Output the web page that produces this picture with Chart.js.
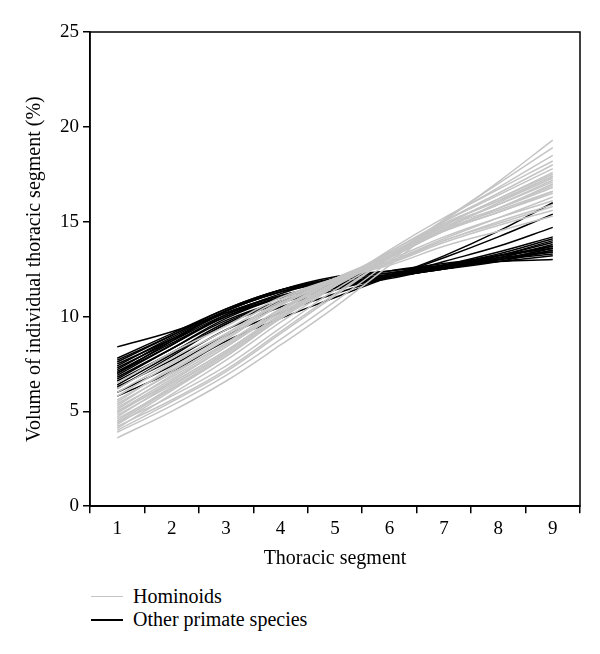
<!DOCTYPE html>
<html>
<head>
<meta charset="utf-8">
<script src="https://cdn.jsdelivr.net/npm/chart.js@4/dist/chart.umd.min.js"></script>
<style>
    body { margin: 0; background: #fff; }
    #wrap { position: relative; width: 600px; height: 654px; }
    #chartBox { position: absolute; left: 0; top: 0; width: 600px; height: 578px; }
    .legend { position: absolute; left: 91px; font-family: "Liberation Serif", serif; font-size: 20px; color: #000; }
    .legend .swatch { position: absolute; left: 0; top: 11px; width: 32px; height: 0; border-top: 2px solid; }
    .legend span { position: absolute; left: 42px; top: 0; white-space: nowrap; }
</style>
</head>
<body>
<div id="wrap">
    <div id="chartBox"><canvas id="chart"></canvas></div>
    <div class="legend" style="top: 585px;"><div class="swatch" style="border-color:#c4c4c4; border-top-width:1.5px"></div><span>Hominoids</span></div>
    <div class="legend" style="top: 608px;"><div class="swatch" style="border-color:#000"></div><span>Other primate species</span></div>
</div>
<script>
const segments = ['1', '2', '3', '4', '5', '6', '7', '8', '9'];
const yTicks = [0, 5, 10, 15, 20, 25];

// hominoids (grey)
const hominoids = [
    [3.6, 5.0, 6.6, 8.5, 10.5, 12.7, 15.0, 17.1, 19.3],
    [3.9, 5.3, 6.9, 8.8, 10.8, 12.9, 15.1, 17.0, 18.9],
    [4.0, 5.5, 7.1, 9.1, 11.1, 13.1, 15.1, 16.8, 18.5],
    [4.1, 5.9, 7.7, 9.7, 11.6, 13.5, 15.2, 16.7, 18.2],
    [4.2, 5.6, 7.2, 9.2, 11.2, 13.1, 15.0, 16.5, 18.0],
    [4.3, 6.1, 7.9, 9.9, 11.7, 13.4, 15.0, 16.4, 17.8],
    [4.4, 5.8, 7.4, 9.4, 11.4, 13.1, 14.8, 16.2, 17.6],
    [4.5, 6.3, 8.1, 10.0, 11.8, 13.4, 14.9, 16.1, 17.4],
    [4.6, 6.2, 7.9, 9.9, 11.6, 13.1, 14.6, 16.0, 17.3],
    [4.7, 6.5, 8.2, 10.1, 11.8, 13.3, 14.8, 15.9, 17.1],
    [4.8, 6.4, 8.1, 10.0, 11.7, 13.2, 14.7, 15.9, 17.2],
    [4.9, 6.6, 8.4, 10.3, 11.9, 13.3, 14.7, 15.7, 16.8],
    [5.0, 6.7, 8.4, 10.2, 11.7, 13.1, 14.5, 15.7, 17.0],
    [5.1, 6.9, 8.6, 10.4, 12.0, 13.2, 14.6, 15.6, 16.6],
    [5.2, 6.8, 8.5, 10.3, 11.8, 13.1, 14.5, 15.7, 16.9],
    [5.3, 7.1, 8.8, 10.6, 12.0, 13.2, 14.5, 15.5, 16.5],
    [5.4, 7.0, 8.6, 10.4, 11.9, 13.1, 14.5, 15.5, 16.6],
    [5.5, 7.3, 9.0, 10.7, 12.0, 13.0, 14.2, 15.2, 16.1],
    [5.6, 7.2, 8.9, 10.6, 11.9, 12.9, 14.1, 15.2, 16.3],
    [5.8, 7.5, 9.1, 10.8, 12.0, 12.9, 14.0, 15.0, 15.9],
    [6.0, 7.6, 9.1, 10.7, 11.9, 12.8, 14.0, 14.9, 15.8],
    [6.2, 7.8, 9.3, 10.9, 12.0, 12.8, 13.9, 14.8, 15.6],
    [6.5, 8.1, 9.5, 11.0, 12.0, 12.7, 13.7, 14.5, 15.3],
    [4.4, 6.2, 8.0, 9.9, 11.6, 13.2, 14.8, 16.2, 17.5],
    [5.0, 6.5, 8.2, 10.1, 11.8, 13.4, 14.9, 16.1, 17.4]
];

// other primate species (black)
const otherPrimates = [
    [8.4, 9.2, 10.2, 11.1, 11.7, 12.1, 12.5, 12.9, 13.5],
    [7.8, 9.1, 10.4, 11.4, 11.9, 12.2, 12.6, 13.0, 13.5],
    [7.7, 9.0, 10.3, 11.3, 11.8, 12.1, 12.5, 13.0, 13.6],
    [7.6, 9.0, 10.4, 11.4, 12.0, 12.3, 12.6, 12.9, 13.2],
    [7.5, 8.8, 10.2, 11.1, 11.7, 12.1, 12.5, 13.0, 13.6],
    [7.4, 8.9, 10.3, 11.3, 11.9, 12.2, 12.6, 13.0, 13.4],
    [7.3, 8.7, 10.1, 11.0, 11.6, 12.1, 12.6, 13.1, 13.8],
    [7.2, 8.8, 10.3, 11.3, 12.0, 12.3, 12.7, 13.0, 13.3],
    [7.1, 8.6, 10.0, 11.0, 11.6, 12.1, 12.6, 13.2, 13.9],
    [7.0, 8.5, 10.0, 11.0, 11.6, 12.1, 12.6, 13.1, 13.7],
    [6.9, 8.5, 10.1, 11.2, 12.0, 12.4, 12.8, 13.1, 13.4],
    [6.8, 8.3, 9.8, 10.8, 11.5, 12.0, 12.6, 13.2, 14.0],
    [6.7, 8.3, 9.9, 11.0, 11.7, 12.2, 12.7, 13.2, 13.7],
    [6.6, 8.1, 9.7, 10.8, 11.5, 12.1, 12.7, 13.3, 14.1],
    [6.4, 8.0, 9.6, 10.7, 11.5, 12.1, 12.7, 13.4, 14.2],
    [6.3, 7.7, 9.3, 10.5, 11.4, 12.1, 12.9, 13.7, 14.7],
    [6.0, 7.4, 9.0, 10.2, 11.2, 12.1, 13.1, 14.2, 15.4],
    [5.8, 7.1, 8.7, 9.9, 11.0, 12.1, 13.2, 14.5, 16.0],
    [7.0, 8.7, 10.3, 11.4, 12.1, 12.4, 12.7, 12.9, 13.0],
    [6.2, 7.9, 9.6, 10.8, 11.6, 12.2, 12.7, 13.2, 13.6]
];

const serif = '"Liberation Serif", "DejaVu Serif", serif';

function lineSet(values, color, label) {
    return {
        label,
        data: values,
        borderColor: color,
        borderWidth: 1.5,
        fill: false,
        pointRadius: 0,
        tension: 0.4
    };
}

// grey listed first so it is drawn on top of the black lines
const datasets = [
    ...hominoids.map(v => lineSet(v, '#c4c4c4', 'Hominoids')),
    ...otherPrimates.map(v => lineSet(v, '#000000', 'Other primate species'))
];

const frame = {
    id: 'frame',
    afterDraw(chart) {
        const { ctx, chartArea: a } = chart;
        ctx.save();
        ctx.strokeStyle = '#000';
        ctx.lineWidth = 1.5;
        ctx.strokeRect(a.left, a.top, a.right - a.left, a.bottom - a.top);
        ctx.restore();
    }
};

new Chart(document.getElementById('chart'), {
    type: 'line',
    data: { labels: segments, datasets },
    options: {
        responsive: true,
        maintainAspectRatio: false,
        animation: false,
        layout: { padding: { top: 32, right: 20, left: 19, bottom: 3 } },
        plugins: {
            legend: { display: false },
            tooltip: { enabled: false }
        },
        scales: {
            x: {
                offset: true,
                grid: { offset: true, drawOnChartArea: false, drawTicks: true, tickLength: 7, color: '#000', lineWidth: 1.5 },
                border: { display: true, color: '#000', width: 1.5 },
                ticks: { color: '#000', font: { family: serif, size: 19 }, padding: 4 },
                title: { display: true, text: 'Thoracic segment', color: '#000', font: { family: serif, size: 20 }, padding: { top: 3, bottom: 4 } }
            },
            y: {
                min: 0,
                max: 25,
                afterBuildTicks: (axis) => { axis.ticks = yTicks.map(v => ({ value: v })); },
                grid: { drawOnChartArea: false, drawTicks: true, tickLength: 7, color: '#000', lineWidth: 1.5 },
                border: { display: true, color: '#000', width: 1.5 },
                ticks: { color: '#000', font: { family: serif, size: 19 }, padding: 4 },
                title: { display: true, text: 'Volume of individual thoracic segment (%)', color: '#000', font: { family: serif, size: 20 }, padding: { top: 4, bottom: 9 } }
            }
        }
    },
    plugins: [frame]
});
</script>
</body>
</html>
